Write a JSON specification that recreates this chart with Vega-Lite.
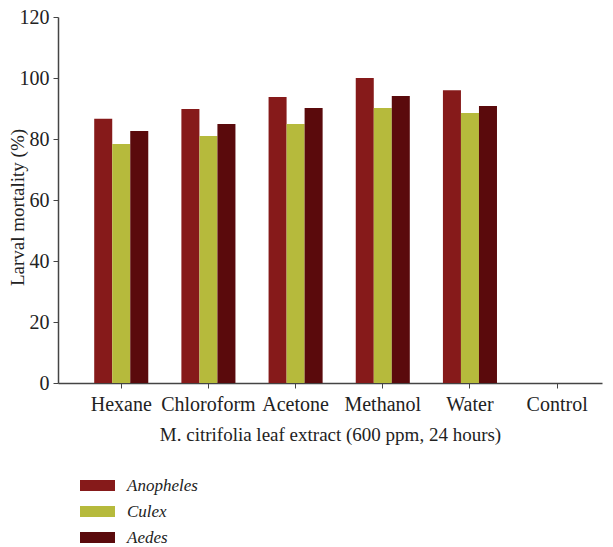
{
  "$schema": "https://vega.github.io/schema/vega-lite/v6.json",
  "width": 544,
  "height": 366,
  "autosize": {"type": "none"},
  "padding": {"left": 58, "top": 17, "right": 11, "bottom": 164},
  "background": "white",
  "config": {
    "font": "Liberation Serif",
    "view": {"stroke": null},
    "axis": {"labelFont": "Liberation Serif", "titleFont": "Liberation Serif", "labelColor": "#222", "titleColor": "#222", "domainColor": "#444", "tickColor": "#444", "grid": false, "titleFontWeight": "normal"}
  },
  "data": {
    "values": [
      {"extract": "Hexane", "species": "Anopheles", "mortality": 86.6},
      {"extract": "Hexane", "species": "Culex", "mortality": 78.4},
      {"extract": "Hexane", "species": "Aedes", "mortality": 82.6},
      {"extract": "Chloroform", "species": "Anopheles", "mortality": 89.8},
      {"extract": "Chloroform", "species": "Culex", "mortality": 81.0},
      {"extract": "Chloroform", "species": "Aedes", "mortality": 84.9},
      {"extract": "Acetone", "species": "Anopheles", "mortality": 93.8},
      {"extract": "Acetone", "species": "Culex", "mortality": 84.9},
      {"extract": "Acetone", "species": "Aedes", "mortality": 90.2},
      {"extract": "Methanol", "species": "Anopheles", "mortality": 100},
      {"extract": "Methanol", "species": "Culex", "mortality": 90.2},
      {"extract": "Methanol", "species": "Aedes", "mortality": 94.1},
      {"extract": "Water", "species": "Anopheles", "mortality": 96.0},
      {"extract": "Water", "species": "Culex", "mortality": 88.5},
      {"extract": "Water", "species": "Aedes", "mortality": 90.8},
      {"extract": "Control", "species": "Anopheles", "mortality": 0},
      {"extract": "Control", "species": "Culex", "mortality": 0},
      {"extract": "Control", "species": "Aedes", "mortality": 0}
    ]
  },
  "mark": {"type": "bar"},
  "encoding": {
    "x": {
      "field": "extract",
      "type": "nominal",
      "sort": ["Hexane", "Chloroform", "Acetone", "Methanol", "Water", "Control"],
      "scale": {"paddingInner": 0.38, "paddingOuter": 0.31, "align": 0.67},
      "axis": {
        "title": "M. citrifolia leaf extract (600 ppm, 24 hours)",
        "labelAngle": 0,
        "labelFontSize": 20,
        "titleFontSize": 19,
        "labelPadding": 6,
        "titlePadding": 11,
        "tickSize": 5,
        "domainWidth": 1.5
      }
    },
    "xOffset": {
      "field": "species",
      "type": "nominal",
      "sort": ["Anopheles", "Culex", "Aedes"],
      "scale": {"paddingInner": 0, "paddingOuter": 0}
    },
    "y": {
      "field": "mortality",
      "type": "quantitative",
      "scale": {"domain": [0, 120]},
      "axis": {
        "title": "Larval mortality (%)",
        "values": [0, 20, 40, 60, 80, 100, 120],
        "labelFontSize": 20,
        "titleFontSize": 19,
        "tickSize": 5,
        "labelPadding": 4,
        "titleX": -31,
        "titleY": 190,
        "domainWidth": 1.5
      }
    },
    "color": {
      "field": "species",
      "type": "nominal",
      "sort": ["Anopheles", "Culex", "Aedes"],
      "scale": {"domain": ["Anopheles", "Culex", "Aedes"], "range": ["#861a1a", "#b6ba3c", "#5a0a0c"]},
      "legend": {
        "title": null,
        "orient": "none",
        "legendX": 22,
        "legendY": 451,
        "direction": "vertical",
        "symbolType": "M-1,-0.314 L1,-0.314 L1,0.314 L-1,0.314 Z",
        "symbolSize": 1225,
        "symbolStrokeWidth": 0,
        "labelFont": "Liberation Serif",
        "labelFontStyle": "italic",
        "labelFontSize": 17,
        "labelColor": "#222",
        "rowPadding": -11,
        "labelOffset": 12
      }
    }
  }
}
